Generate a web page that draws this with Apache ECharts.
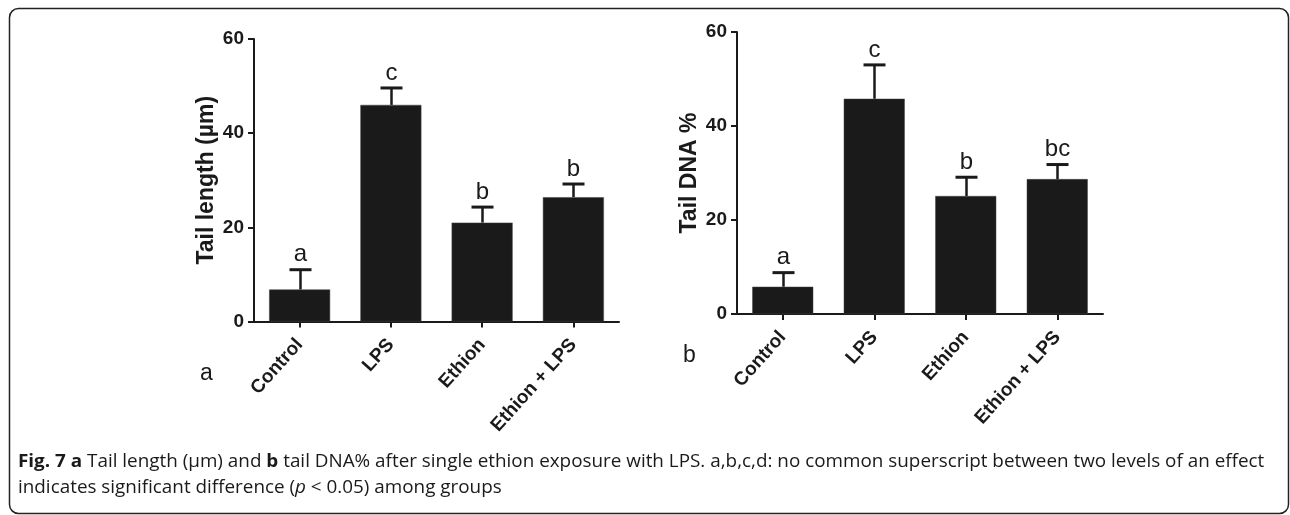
<!DOCTYPE html>
<html>
<head>
<meta charset="utf-8">
<script src="https://cdn.jsdelivr.net/npm/echarts@6/dist/echarts.min.js"></script>
<style>
  html, body { margin: 0; padding: 0; background: #fff; }
  #chart { width: 1290px; height: 515px; }
</style>
</head>
<body>
<div id="chart"></div>
<script>
// groups on the x axis
var categories = ['Control', 'LPS', 'Ethion', 'Ethion + LPS'];

// panel a: tail length (µm), mean and upper error
var tailLength = [6.8, 46.0, 21.0, 26.4];
var tailLengthErr = [4.2, 3.6, 3.3, 2.8];
var tailLengthLetters = ['a', 'c', 'b', 'b'];

// panel b: tail DNA %
var tailDNA = [5.8, 45.8, 25.1, 28.7];
var tailDNAErr = [3.0, 7.2, 4.0, 3.1];
var tailDNALetters = ['a', 'c', 'b', 'bc'];

var yTicks = [0, 20, 40, 60];

var ink = '#1a1a1a';
var sans = '"Liberation Sans", Arial, sans-serif';

function errData(vals, errs, letters) {
    return vals.map(function (v, i) {
        return [i, v, v + errs[i], letters[i]];
    });
}

// error whisker (upper only) + significance letter
function renderErr(params, api) {
    var top = api.coord([api.value(0), api.value(2)]);
    var base = api.coord([api.value(0), api.value(1)]);
    var x = Math.round(top[0]) + 0.5;
    return {
        type: 'group',
        children: [
            {
                type: 'line',
                shape: { x1: x, y1: base[1], x2: x, y2: top[1] },
                style: { stroke: ink, lineWidth: 2.5 }
            },
            {
                type: 'line',
                shape: { x1: x - 11, y1: top[1], x2: x + 11, y2: top[1] },
                style: { stroke: ink, lineWidth: 3 }
            },
            {
                type: 'text',
                x: x,
                y: top[1] - 3,
                style: {
                    text: api.value(3),
                    fill: ink,
                    font: '24px ' + sans,
                    align: 'center',
                    verticalAlign: 'bottom'
                }
            }
        ]
    };
}

function yAxisCfg(gridIndex, name) {
    return {
        type: 'value',
        gridIndex: gridIndex,
        min: 0,
        max: 60,
        interval: 20,
        name: name,
        nameLocation: 'middle',
        nameRotate: 90,
        nameGap: 36,
        nameTextStyle: {
            color: ink,
            fontFamily: sans,
            fontWeight: 'bold',
            fontSize: 23
        },
        axisLine: { show: true, lineStyle: { color: ink, width: 2 } },
        axisTick: { show: true, length: 6, lineStyle: { color: ink, width: 2 } },
        axisLabel: {
            color: ink,
            margin: 10,
            fontFamily: sans,
            fontWeight: 'bold',
            fontSize: 19,
            customValues: yTicks
        },
        splitLine: { show: false }
    };
}

function xAxisCfg(gridIndex) {
    return {
        type: 'category',
        gridIndex: gridIndex,
        data: categories,
        axisLine: { show: true, lineStyle: { color: ink, width: 2 } },
        axisTick: { show: true, alignWithLabel: true, length: 6, lineStyle: { color: ink, width: 2 } },
        axisLabel: {
            color: ink,
            interval: 0,
            rotate: 48,
            margin: 20,
            fontFamily: sans,
            fontWeight: 'bold',
            fontSize: 19
        },
        splitLine: { show: false }
    };
}

var chart = echarts.init(document.getElementById('chart'), null, { renderer: 'canvas' });

var option = {
    backgroundColor: '#ffffff',
    animation: false,
    grid: [
        { left: 254, right: 671, top: 39, bottom: 193.5 },
        { left: 737, right: 187, top: 32, bottom: 201 }
    ],
    xAxis: [xAxisCfg(0), xAxisCfg(1)],
    yAxis: [yAxisCfg(0, 'Tail length (µm)'), yAxisCfg(1, 'Tail DNA %')],
    series: [
        {
            type: 'bar',
            xAxisIndex: 0,
            yAxisIndex: 0,
            data: tailLength,
            barWidth: 61,
            itemStyle: { color: ink, borderColor: '#444', borderWidth: 0.5 }
        },
        {
            type: 'custom',
            xAxisIndex: 0,
            yAxisIndex: 0,
            data: errData(tailLength, tailLengthErr, tailLengthLetters),
            renderItem: renderErr,
            z: 3
        },
        {
            type: 'bar',
            xAxisIndex: 1,
            yAxisIndex: 1,
            data: tailDNA,
            barWidth: 61,
            itemStyle: { color: ink, borderColor: '#444', borderWidth: 0.5 }
        },
        {
            type: 'custom',
            xAxisIndex: 1,
            yAxisIndex: 1,
            data: errData(tailDNA, tailDNAErr, tailDNALetters),
            renderItem: renderErr,
            z: 3
        }
    ],
    graphic: [
        {
            type: 'rect',
            shape: { x: 9.5, y: 8.5, width: 1279, height: 505, r: 9 },
            style: { fill: 'none', stroke: '#222', lineWidth: 1.5 },
            silent: true
        },
        {
            type: 'text',
            left: 200,
            top: 362,
            style: { text: 'a', fill: ink, font: '23px ' + sans }
        },
        {
            type: 'text',
            left: 683,
            top: 344,
            style: { text: 'b', fill: ink, font: '23px ' + sans }
        },
        {
            type: 'text',
            x: 18,
            y: 453,
            scaleX: 1.048,
            style: {
                text: '{b|Fig. 7 a} Tail length (µm) and {b|b} tail DNA% after single ethion exposure with LPS. a,b,c,d: no common superscript between two levels of an effect',
                fill: ink,
                font: '18px "Open Sans", sans-serif',
                rich: {
                    b: { fontWeight: 'bold', fontSize: 18, fontFamily: '"Open Sans", sans-serif', fill: ink }
                }
            }
        },
        {
            type: 'text',
            x: 18,
            y: 479,
            scaleX: 1.048,
            style: {
                text: 'indicates significant difference ({i|p} < 0.05) among groups',
                fill: ink,
                font: '18px "Open Sans", sans-serif',
                rich: {
                    i: { fontStyle: 'italic', fontSize: 18, fontFamily: '"Open Sans", sans-serif', fill: ink }
                }
            }
        }
    ]
};

chart.setOption(option);
</script>
</body>
</html>
